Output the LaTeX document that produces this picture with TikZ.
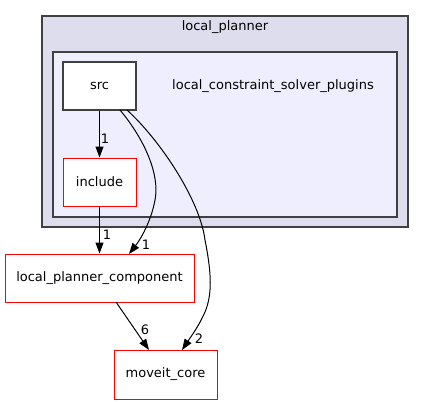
\documentclass[tikz,border=0pt]{standalone}
\usepackage{fontspec}
\setmainfont{DejaVu Sans}
\usetikzlibrary{arrows.meta}
\definecolor{outerfill}{HTML}{DDDDEE}
\definecolor{innerfill}{HTML}{EEEEFF}
\definecolor{bord}{HTML}{404040}
\begin{document}
\begin{tikzpicture}[x=1pt,y=-1pt,
  every node/.style={font=\fontsize{13}{15}\selectfont, inner sep=0pt},
  dirbox/.style={draw=red, fill=white, line width=0.9pt, rectangle},
  srcbox/.style={draw=bord, fill=white, line width=1.2pt, rectangle},
  edge/.style={draw=black, line width=1pt, -{Triangle[length=11pt,width=8pt]}},
  elab/.style={font=\fontsize{13}{15}\selectfont}]
\useasboundingbox (0,0) rectangle (424,404);
\fill[white] (0,0) rectangle (424,404);
% clusters
\draw[fill=outerfill, draw=bord, line width=1.3pt] (42,16) rectangle (408,227);
\node at (225,27) {local\_planner};
\draw[fill=innerfill, draw=bord, line width=1.3pt] (53,52) rectangle (397,217);
\node at (273,86) {local\_constraint\_solver\_plugins};
% nodes
\node[srcbox, minimum width=73pt, minimum height=48pt] (src) at (99.5,86) {src};
\node[dirbox, minimum width=73pt, minimum height=48pt] (inc) at (99.5,182) {include};
\node[dirbox, minimum width=189pt, minimum height=48pt] (lpc) at (99.5,278) {local\_planner\_component};
\node[dirbox, minimum width=103pt, minimum height=49pt] (mc) at (165.5,374.5) {moveit\_core};
% edges
\coordinate (s1) at (120,110);
\coordinate (s2) at (127,110);
\coordinate (t1) at (129,254);
\coordinate (t2) at (182,350);
\coordinate (l1) at (116,302);
\coordinate (m1) at (149,350);
\draw[edge] (src.south) -- (inc.north);
\node[elab] at (105,139) {1};
\draw[edge] (inc.south) -- (lpc.north);
\node[elab] at (107,235) {1};
\draw[edge] (s1) .. controls (145,140) and (160,175) .. (155,200) .. controls (151,222) and (140,240) .. (t1);
\node[elab] at (146,245) {1};
\draw[edge] (s2) .. controls (160,140) and (200,200) .. (205,240) .. controls (212,275) and (212,295) .. (205,312) .. controls (199,326) and (190,338) .. (t2);
\node[elab] at (199,339) {2};
\draw[edge] (l1) -- (m1);
\node[elab] at (145,330) {6};
\end{tikzpicture}
\end{document}
